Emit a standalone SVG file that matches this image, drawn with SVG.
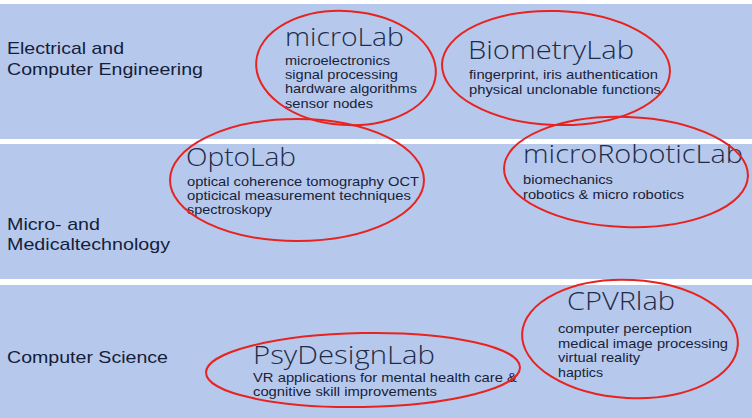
<svg xmlns="http://www.w3.org/2000/svg" width="752" height="418" viewBox="0 0 752 418">
<style>
.band{fill:#b6c9ec}
.cat{font-family:"Liberation Sans",Arial,sans-serif;font-size:17px;fill:#14203a}
.title{font-family:"Open Sans","Lato",sans-serif;font-weight:300;font-size:26px;fill:#1e2c48}
.desc{font-family:"Liberation Sans",Arial,sans-serif;font-size:13px;fill:#18223a}
.ring{fill:none;stroke:#e8231f;stroke-width:2}
</style>
<rect x="0" y="0" width="752" height="418" fill="#ffffff"/>
<g id="bands">
<rect class="band" x="0" y="4" width="752" height="135"/>
<rect class="band" x="0" y="144" width="752" height="135"/>
<rect class="band" x="0" y="285" width="752" height="133"/>
</g>
<g id="categories">
<text class="cat" x="7" y="54" textLength="117" lengthAdjust="spacingAndGlyphs">Electrical and</text>
<text class="cat" x="7" y="75" textLength="196" lengthAdjust="spacingAndGlyphs">Computer Engineering</text>
<text class="cat" x="7" y="230" textLength="93" lengthAdjust="spacingAndGlyphs">Micro- and</text>
<text class="cat" x="7" y="250" textLength="163" lengthAdjust="spacingAndGlyphs">Medicaltechnology</text>
<text class="cat" x="7" y="363" textLength="161" lengthAdjust="spacingAndGlyphs">Computer Science</text>
</g>
<g id="microLab">
<text class="title" x="285" y="46" textLength="119" lengthAdjust="spacingAndGlyphs">microLab</text>
<text class="desc" x="285" y="65" textLength="105" lengthAdjust="spacingAndGlyphs">microelectronics</text>
<text class="desc" x="285" y="79" textLength="113" lengthAdjust="spacingAndGlyphs">signal processing</text>
<text class="desc" x="285" y="93" textLength="132" lengthAdjust="spacingAndGlyphs">hardware algorithms</text>
<text class="desc" x="285" y="107.5" textLength="88" lengthAdjust="spacingAndGlyphs">sensor nodes</text>
</g>
<g id="BiometryLab">
<text class="title" x="468" y="59" textLength="166" lengthAdjust="spacingAndGlyphs">BiometryLab</text>
<text class="desc" x="469" y="79" textLength="189" lengthAdjust="spacingAndGlyphs">fingerprint, iris authentication</text>
<text class="desc" x="469" y="94" textLength="192" lengthAdjust="spacingAndGlyphs">physical unclonable functions</text>
</g>
<g id="OptoLab">
<text class="title" x="186" y="166" textLength="110" lengthAdjust="spacingAndGlyphs">OptoLab</text>
<text class="desc" x="187" y="186" textLength="232" lengthAdjust="spacingAndGlyphs">optical coherence tomography OCT</text>
<text class="desc" x="187" y="200" textLength="224" lengthAdjust="spacingAndGlyphs">opticical measurement techniques</text>
<text class="desc" x="187" y="214" textLength="85" lengthAdjust="spacingAndGlyphs">spectroskopy</text>
</g>
<g id="microRoboticLab">
<text class="title" x="523" y="163" textLength="220" lengthAdjust="spacingAndGlyphs">microRoboticLab</text>
<text class="desc" x="523" y="184" textLength="90" lengthAdjust="spacingAndGlyphs">biomechanics</text>
<text class="desc" x="523" y="199" textLength="161" lengthAdjust="spacingAndGlyphs">robotics &amp; micro robotics</text>
</g>
<g id="PsyDesignLab">
<text class="title" x="253" y="364" textLength="182" lengthAdjust="spacingAndGlyphs">PsyDesignLab</text>
<text class="desc" x="253" y="382" textLength="264" lengthAdjust="spacingAndGlyphs">VR applications for mental health care &amp;</text>
<text class="desc" x="253" y="396" textLength="184" lengthAdjust="spacingAndGlyphs">cognitive skill improvements</text>
</g>
<g id="CPVRlab">
<text class="title" x="567" y="310" textLength="108" lengthAdjust="spacingAndGlyphs">CPVRlab</text>
<text class="desc" x="558" y="333" textLength="134" lengthAdjust="spacingAndGlyphs">computer perception</text>
<text class="desc" x="558" y="348" textLength="170" lengthAdjust="spacingAndGlyphs">medical image processing</text>
<text class="desc" x="558" y="362" textLength="82" lengthAdjust="spacingAndGlyphs">virtual reality</text>
<text class="desc" x="558" y="377" textLength="45" lengthAdjust="spacingAndGlyphs">haptics</text>
</g>
<g id="rings">
<ellipse class="ring" cx="346" cy="68" rx="90" ry="57" transform="rotate(4 346 68)"/>
<ellipse class="ring" cx="556" cy="68" rx="114" ry="57" transform="rotate(2 556 68)"/>
<ellipse class="ring" cx="297" cy="180" rx="127" ry="61"/>
<ellipse class="ring" cx="626" cy="172" rx="122" ry="55" transform="rotate(2 626 172)"/>
<ellipse class="ring" cx="363" cy="370" rx="157" ry="37" transform="rotate(-1 363 370)"/>
<ellipse class="ring" cx="630" cy="339" rx="108" ry="59" transform="rotate(3 630 339)"/>
</g>
</svg>
